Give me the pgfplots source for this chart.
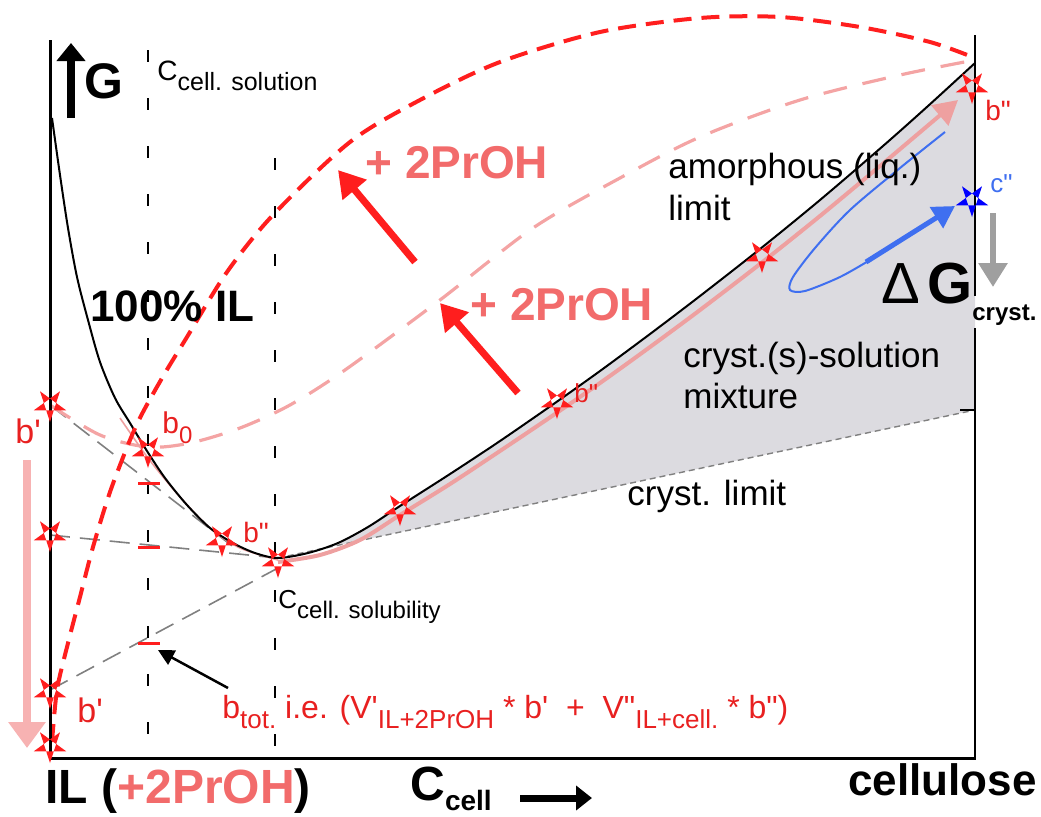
\documentclass[border=0pt]{standalone}
\usepackage{pgfplots}
\pgfplotsset{compat=1.18}
\usetikzlibrary{arrows.meta}
\usepackage{fontspec}
\setmainfont{Liberation Sans}[Ligatures=TeXOff]
\newcommand\fs[1]{\fontsize{#1}{#1}\selectfont}
\definecolor{salm}{RGB}{242,107,107}
\definecolor{rd}{RGB}{255,30,30}
\definecolor{lab}{RGB}{232,32,32}
\definecolor{pkd}{RGB}{244,164,164}
\definecolor{pks}{RGB}{238,160,160}
\definecolor{pka}{RGB}{247,178,178}
\definecolor{gfill}{RGB}{220,219,224}
\definecolor{bl}{RGB}{63,111,240}
\tikzset{lb/.style={inner sep=0pt, anchor=base west}}
\pgfdeclareplotmark{pent}{%
  \pgfpathmoveto{\pgfpointpolar{-90}{\pgfplotmarksize}}%
  \pgfpathlineto{\pgfpointpolar{54}{\pgfplotmarksize}}%
  \pgfpathlineto{\pgfpointpolar{198}{\pgfplotmarksize}}%
  \pgfpathlineto{\pgfpointpolar{-18}{\pgfplotmarksize}}%
  \pgfpathlineto{\pgfpointpolar{126}{\pgfplotmarksize}}%
  \pgfpathclose
  \pgfseteorule
  \pgfusepathqfill
}
\begin{document}
\begin{tikzpicture}
\begin{axis}[width=520.5pt, height=408pt, scale only axis,
  xmin=0, xmax=1041, ymin=0, ymax=816, y dir=reverse,
  hide axis, clip=false]
\addplot[draw=none] coordinates {(0,0) (1041,816)};
% shaded region
\addplot[fill=gfill, draw=none] coordinates {(278,558) (308,553) (338,543) (368,527) (400,506) (450,474) (500,441) (555,403) (600,371) (650,334) (700,296) (760,249) (820,200) (883,146) (928,106) (975,63) (975,410) (278,558)};
% cryst limit
\addplot[gray, line width=0.7pt, dash pattern=on 3pt off 2pt] coordinates {(278,558) (975,410)};
\addplot[black, line width=0.8pt] coordinates {(960,410) (975,410)};
% vertical dashed lines
\addplot[black, line width=1pt, dash pattern=on 6pt off 18pt] coordinates {(148,50) (148,758)};
\addplot[black, line width=1pt, dash pattern=on 6pt off 18pt] coordinates {(275,158) (275,758)};
% gray tangents
\addplot[gray, line width=0.8pt, dash pattern=on 10pt off 5pt] coordinates {(50,405) (240,552)};
\addplot[gray, line width=0.8pt, dash pattern=on 10pt off 5pt] coordinates {(50,535) (278,558)};
\addplot[gray, line width=0.8pt, dash pattern=on 10pt off 5pt] coordinates {(50,690) (278,568)};
% pink dashed curve
\addplot[pkd, line width=1.6pt, dash pattern=on 12pt off 8pt, smooth] coordinates {(50,405) (100,435) (148,447) (190,443) (240,428) (290,405) (345,370) (440,300) (533,228) (620,178) (700,137) (800,100) (900,75) (975,60)};
% faint pink solid left
\addplot[pks, line width=0.8pt, smooth] coordinates {(120,418) (148,458) (180,497) (210,528) (240,548) (278,560)};
% black curve
\addplot[black, line width=1pt, smooth] coordinates {(52,118) (60,175) (68,228) (77,277) (88,320) (100,362) (115,398) (130,423) (147,451) (165,478) (187,505) (210,528) (233,543) (255,553) (278,558) (308,553) (338,543) (368,527) (400,506) (450,474) (500,441) (555,403) (600,371) (650,334) (700,296) (760,249) (820,200) (883,146) (928,106) (975,63)};
% pink arrow along curve
\addplot[pks, line width=2pt, smooth, -{Triangle[length=12pt,width=13pt]}] coordinates {(278,562) (320,555) (360,540) (400,515) (450,484) (500,451) (555,414) (600,383) (650,347) (700,310) (760,264) (820,216) (880,166) (958,100)};
% red dashed big curve
\addplot[rd, line width=2pt, dash pattern=on 9pt off 5pt, smooth] coordinates {(52,742) (57,690) (67,647) (80,597) (93,547) (110,492) (130,440) (143,412) (165,373) (187,337) (227,272) (273,215) (350,142) (420,100) (500,62) (600,32) (700,18) (780,17) (860,27) (930,42) (975,58)};
% red ticks
\addplot[rd, line width=1.5pt] coordinates {(138,483) (160,483)};
\addplot[rd, line width=1.5pt] coordinates {(138,547) (160,547)};
\addplot[rd, line width=1.5pt] coordinates {(138,643) (160,643)};
% blue loop
\addplot[bl, line width=1pt, smooth] coordinates {(945,132) (900,168) (850,210) (815,248) (793,277) (790,290) (805,291) (840,277) (870,260)};
\addplot[bl, line width=2.5pt, -{Triangle[length=11pt,width=12pt]}] coordinates {(866,262) (955,206)};
% axes lines
\addplot[black, line width=1.5pt] coordinates {(50,40) (50,758)};
\addplot[black, line width=1.5pt] coordinates {(49,758) (976,758)};
\addplot[black, line width=1.25pt] coordinates {(975,35) (975,296)};
\addplot[black, line width=1.25pt] coordinates {(975,328) (975,758)};
% arrows
\addplot[rd, line width=3.5pt, -{Triangle[length=13pt,width=15pt]}] coordinates {(415,262) (338,170)};
\addplot[rd, line width=3.5pt, -{Triangle[length=13pt,width=15pt]}] coordinates {(518,393) (440,303)};
\addplot[gray!75, line width=3pt, -{Triangle[length=12pt,width=14pt]}] coordinates {(993,213) (993,287)};
\addplot[pka, line width=4pt, -{Triangle[length=13pt,width=18pt]}] coordinates {(27,460) (27,748)};
\addplot[black, line width=4pt, -{Triangle[length=9pt,width=14pt]}] coordinates {(71,118) (71,43)};
\addplot[black, line width=3.5pt, -{Triangle[length=8pt,width=12pt]}] coordinates {(520,798) (592,798)};
\addplot[black, line width=1.25pt, -{Triangle[length=8pt,width=8pt]}] coordinates {(228,688) (158,650)};
% stars
\addplot[only marks, mark=pent, mark size=8.5pt, rd] coordinates {(50,405) (148,451) (50,535) (222,540) (278,561) (50,692) (50,746) (400,509) (557,402) (762,256) (972,87)};
\addplot[only marks, mark=pent, mark size=8.5pt, blue] coordinates {(972,200)};
% texts
\node[lb, font=\bfseries\fs{25}] at (axis cs:84,98) {G};
\node[lb] at (axis cs:157,80) {\fs{14}C\raisebox{-5pt}{\fs{12.5}cell. solution}};
\node[lb, font=\bfseries\fs{22}] at (axis cs:90,321) {100\% IL};
\node[lb, font=\bfseries\fs{23}, text=salm] at (axis cs:365,178) {+ 2PrOH};
\node[lb, font=\bfseries\fs{23}, text=salm] at (axis cs:470,320) {+ 2PrOH};
\node[lb, font=\fs{17.5}] at (axis cs:668,178) {amorphous (liq.)};
\node[lb, font=\fs{17.5}] at (axis cs:668,220) {limit};
\node[lb, font=\fs{29}] at (axis cs:881,303) {Δ};
\node[lb, font=\bfseries\fs{29}] at (axis cs:927,303) {G};
\node[lb, font=\bfseries\fs{12}] at (axis cs:972,320) {cryst.};
\node[lb, font=\fs{17.5}] at (axis cs:683,367) {cryst.(s)-solution};
\node[lb, font=\fs{17.5}] at (axis cs:683,408) {mixture};
\node[lb, font=\fs{17.5}] at (axis cs:627,505) {cryst. limit};
\node[lb, font=\fs{17}, text=lab] at (axis cs:15,443) {b'};
\node[lb, text=lab] at (axis cs:162,433) {\fs{15}b\raisebox{-5pt}{\fs{12}0}};
\node[lb, font=\fs{14}, text=lab] at (axis cs:243,542) {b"};
\node[lb, font=\fs{13}, text=lab] at (axis cs:574,402) {b"};
\node[lb, font=\fs{14}, text=lab] at (axis cs:985,120) {b"};
\node[lb, font=\fs{13}, text=bl] at (axis cs:990,192) {c"};
\node[lb, font=\fs{17}, text=lab] at (axis cs:77,722) {b'};
\node[lb] at (axis cs:278,608) {\fs{13}C\raisebox{-5pt}{\fs{12}cell. solubility}};
\node[lb, text=lab] at (axis cs:222,718) {\fs{16}b\raisebox{-5pt}{\fs{13}tot.} i.e. (V'\raisebox{-5pt}{\fs{13}IL+2PrOH} * b'\ \ +\ \ V"\raisebox{-5pt}{\fs{13}IL+cell.} * b")};
\node[lb, font=\bfseries\fs{24}] at (axis cs:45,803) {IL (\textcolor{salm}{+2PrOH})};
\node[lb] at (axis cs:410,800) {\bfseries\fs{24}C\raisebox{-5pt}{\fs{14}cell}};
\node[lb, font=\bfseries\fs{22}] at (axis cs:848,795) {cellulose};
\end{axis}
\end{tikzpicture}
\end{document}
